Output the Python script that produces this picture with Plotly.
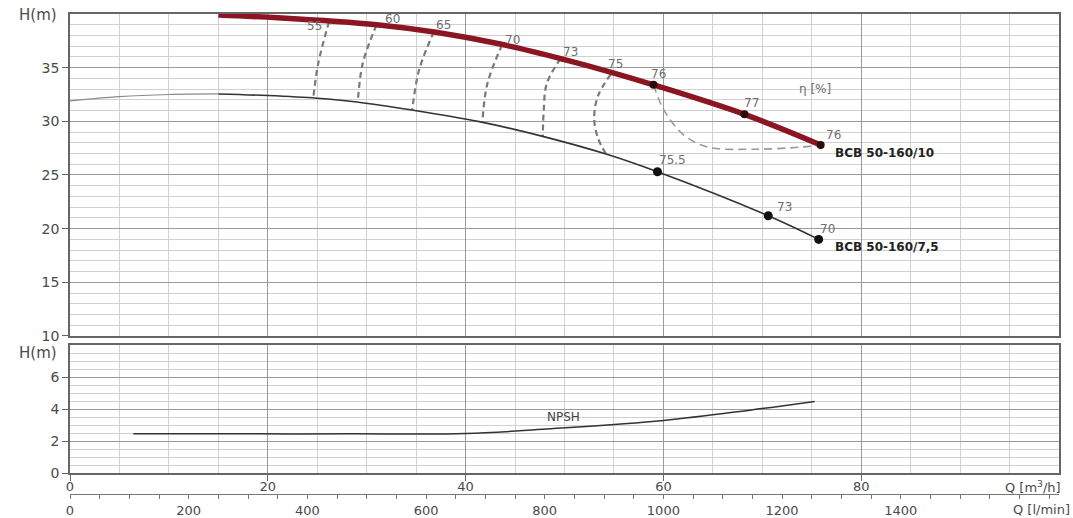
import plotly.graph_objects as go

# ---------------- data ----------------
# BCB 50-160/10 (thick red curve), Q [m3/h] vs H [m]
q_big = [15, 21, 31, 37, 43.5, 50, 55, 59, 68.2, 75.9]
h_big = [39.9, 39.65, 39.0, 38.3, 37.2, 35.75, 34.5, 33.4, 30.65, 27.8]
# BCB 50-160/7,5 (thin dark curve), faint extension at low flow
q_small_ext = [0, 5, 10, 15]
h_small_ext = [31.9, 32.3, 32.5, 32.55]
q_small = [15, 20, 25, 29, 34.6, 41.5, 47.8, 54.2, 59.4, 70.6, 75.7]
h_small = [32.55, 32.4, 32.15, 31.8, 31.05, 29.95, 28.6, 26.95, 25.3, 21.2, 19.0]
# NPSH curve
q_npsh = [6.4, 15, 28.4, 40, 48.6, 60, 68.9, 75.3]
h_npsh = [2.46, 2.46, 2.46, 2.48, 2.78, 3.29, 3.95, 4.48]

# efficiency points on the curves
q_big_pts = [59, 68.2, 75.9]
h_big_pts = [33.4, 30.65, 27.8]
big_pts_labels = ["76", "77", "76"]
q_small_pts = [59.4, 70.6, 75.7]
h_small_pts = [25.3, 21.2, 19.0]
small_pts_labels = ["75.5", "73", "70"]

# iso-efficiency (dashed) curves
eff_labels = ["55", "60", "65", "70", "73", "75"]
eff_55_q = [26.2, 25.1, 24.6]
eff_55_h = [39.3, 35.4, 32.17]
eff_60_q = [31.0, 29.6, 29.1]
eff_60_h = [39.0, 35.4, 31.8]
eff_65_q = [36.8, 35.3, 34.6]
eff_65_h = [38.35, 34.8, 31.05]
eff_70_q = [43.7, 42.2, 41.7]
eff_70_h = [37.15, 33.5, 29.95]
eff_73_q = [49.6, 48.2, 47.9, 47.8]
eff_73_h = [35.85, 33.5, 31.0, 28.6]
eff_75_q = [54.7, 53.4, 53.0, 53.4, 54.2]
eff_75_h = [34.4, 32.4, 30.3, 28.4, 26.95]
eff_76_q = [59.0, 60.05, 62.1, 64.5, 69.2, 73.9, 75.9]
eff_76_h = [33.4, 31.05, 28.7, 27.6, 27.4, 27.6, 27.8]

x_major_ticks = [0, 20, 40, 60, 80]
y_top_ticks = [10, 15, 20, 25, 30, 35]
y_bot_ticks = [0, 2, 4, 6]
lmin_ticks = list(range(0, 1651, 50))
lmin_labels = [str(v) if v % 200 == 0 and v <= 1400 else "" for v in lmin_ticks]
M3H_TO_LMIN = 1000.0 / 60.0

# ---------------- figure ----------------
FONT = "DejaVu Sans, Liberation Sans, Arial, sans-serif"
TICKC = "#4a4a4a"
fig = go.Figure()

eff_curves = [(eff_55_q, eff_55_h), (eff_60_q, eff_60_h), (eff_65_q, eff_65_h),
              (eff_70_q, eff_70_h), (eff_73_q, eff_73_h), (eff_75_q, eff_75_h)]
for q, h in eff_curves:
    fig.add_trace(go.Scatter(x=q, y=h, mode="lines", line=dict(color="#7a7a7a", width=2.2, dash="6px,4px", shape="spline"),
                             xaxis="x", yaxis="y", hoverinfo="skip", showlegend=False))
fig.add_trace(go.Scatter(x=eff_76_q, y=eff_76_h, mode="lines", line=dict(color="#9a9a9a", width=1.6, dash="8px,5px", shape="spline"),
                         xaxis="x", yaxis="y", hoverinfo="skip", showlegend=False))

fig.add_trace(go.Scatter(x=q_small_ext, y=h_small_ext, mode="lines", line=dict(color="#8a8a8a", width=1.2, shape="spline"),
                         xaxis="x", yaxis="y", showlegend=False))
fig.add_trace(go.Scatter(x=q_small, y=h_small, mode="lines", line=dict(color="#333333", width=1.6, shape="spline"),
                         xaxis="x", yaxis="y", showlegend=False))
fig.add_trace(go.Scatter(x=q_big, y=h_big, mode="lines", line=dict(color="#8c1522", width=5.5, shape="spline"),
                         xaxis="x", yaxis="y", showlegend=False))
fig.add_trace(go.Scatter(x=q_small_pts, y=h_small_pts, mode="markers", marker=dict(color="#111111", size=9),
                         xaxis="x", yaxis="y", showlegend=False))
fig.add_trace(go.Scatter(x=q_big_pts, y=h_big_pts, mode="markers", marker=dict(color="#2a0a0a", size=8),
                         xaxis="x", yaxis="y", showlegend=False))

fig.add_trace(go.Scatter(x=q_npsh, y=h_npsh, mode="lines", line=dict(color="#333333", width=1.5, shape="spline"),
                         xaxis="x2", yaxis="y2", showlegend=False))
# dummy trace to carry the l/min axis
fig.add_trace(go.Scatter(x=[0, 100 * M3H_TO_LMIN], y=[None, None], mode="lines", xaxis="x3", yaxis="y",
                         hoverinfo="skip", showlegend=False))

ann = []
LBL = dict(size=12, color="#6e6e6e", family=FONT)
eff_offsets = [(-15, -4), (16, 6), (10, 7), (10, 5), (10, 7), (5, 10)]
for (q, h), lab, (dx, dy) in zip(eff_curves, eff_labels, eff_offsets):
    ann.append(dict(x=q[0], y=h[0], xref="x", yref="y", text=lab, showarrow=False, font=LBL, xshift=dx, yshift=dy))
big_offsets = [(5, 11), (7, 11), (13, 10)]
for q, h, lab, (dx, dy) in zip(q_big_pts, h_big_pts, big_pts_labels, big_offsets):
    ann.append(dict(x=q, y=h, xref="x", yref="y", text=lab, showarrow=False, font=LBL, xshift=dx, yshift=dy))
small_offsets = [(15, 12), (16, 9), (9, 10)]
for q, h, lab, (dx, dy) in zip(q_small_pts, h_small_pts, small_pts_labels, small_offsets):
    ann.append(dict(x=q, y=h, xref="x", yref="y", text=lab, showarrow=False, font=LBL, xshift=dx, yshift=dy))

BOLD = dict(size=12, color="#222222", family=FONT, weight="bold")
ann.append(dict(x=q_big[-1], y=h_big[-1], xref="x", yref="y", text="BCB 50-160/10", showarrow=False,
                xanchor="left", xshift=12, yshift=-8, font=BOLD))
ann.append(dict(x=q_small[-1], y=h_small[-1], xref="x", yref="y", text="BCB 50-160/7,5", showarrow=False,
                xanchor="left", xshift=14, yshift=-8, font=BOLD))
ann.append(dict(x=75.3, y=33.0, xref="x", yref="y", text="η [%]", showarrow=False, font=LBL))
ann.append(dict(x=49.9, y=3.54, xref="x2", yref="y2", text="NPSH", showarrow=False,
                font=dict(size=12, color="#444444", family=FONT)))

AX = dict(size=14, color=TICKC, family=FONT)
AXS = dict(size=13, color=TICKC, family=FONT)
HM = dict(size=15, color=TICKC, family=FONT)
ann.append(dict(x=-0.0324, y=0.998, xref="paper", yref="paper", text="H(m)", showarrow=False, font=HM,
                xanchor="center", yanchor="middle"))
ann.append(dict(x=-0.0324, y=0.2938, xref="paper", yref="paper", text="H(m)", showarrow=False, font=HM,
                xanchor="center", yanchor="middle"))
ann.append(dict(x=1.004, y=0.0146, xref="paper", yref="paper", text="Q [m<sup>3</sup>/h]", showarrow=False,
                xanchor="right", yanchor="middle", font=AXS))
ann.append(dict(x=1.0131, y=-0.0313, xref="paper", yref="paper", text="Q [l/min]", showarrow=False,
                xanchor="right", yanchor="middle", font=AXS))

MAJ = "#9a9a9a"
MIN = "#d0d0d0"
FRAME = "#666666"
xcommon = dict(range=[0, 100], tickvals=x_major_ticks, showgrid=True, gridcolor=MAJ, gridwidth=1.4,
               minor=dict(dtick=5, tick0=0, showgrid=True, gridcolor=MIN, gridwidth=1.2),
               showline=True, linecolor=FRAME, linewidth=1.5, mirror=True, zeroline=False,
               tickfont=AXS, fixedrange=True, automargin=False)

fig.update_layout(
    width=1073, height=518,
    margin=dict(l=70, r=14, t=14, b=24),
    paper_bgcolor="white", plot_bgcolor="white",
    showlegend=False,
    font=dict(family=FONT),
    annotations=ann,
    xaxis=dict(xcommon, anchor="y", showticklabels=False, ticks=""),
    xaxis2=dict(xcommon, anchor="y2", ticks="outside", ticklen=6, tickcolor=FRAME, ticklabelstandoff=-6),
    xaxis3=dict(range=[0, 100 * M3H_TO_LMIN], overlaying="x", anchor="free", position=0, side="bottom",
                tickvals=lmin_ticks, ticktext=lmin_labels, ticks="outside", ticklen=4, tickcolor="#777777",
                showline=True, linecolor="#777777", linewidth=1.2, showgrid=False, zeroline=False,
                tickfont=AXS, fixedrange=True, automargin=False),
    yaxis=dict(domain=[0.3292, 1], range=[10, 40], tickvals=y_top_ticks, showgrid=True, gridcolor=MAJ, gridwidth=1.4,
               minor=dict(dtick=1, tick0=10, showgrid=True, gridcolor=MIN, gridwidth=1.2),
               showline=True, linecolor=FRAME, linewidth=1.5, mirror=True, zeroline=False,
               ticks="outside", ticklen=6, tickcolor=FRAME, tickfont=AX, fixedrange=True, anchor="x",
               automargin=False),
    yaxis2=dict(domain=[0.0431, 0.3104], range=[0, 8], tickvals=y_bot_ticks, showgrid=True, gridcolor=MAJ, gridwidth=1.4,
                minor=dict(dtick=0.5, tick0=0, showgrid=True, gridcolor=MIN, gridwidth=1.2),
                showline=True, linecolor=FRAME, linewidth=1.5, mirror=True, zeroline=False,
                ticks="outside", ticklen=6, tickcolor=FRAME, tickfont=AX, fixedrange=True, anchor="x2",
                automargin=False),
)

fig.write_html("out.html")
